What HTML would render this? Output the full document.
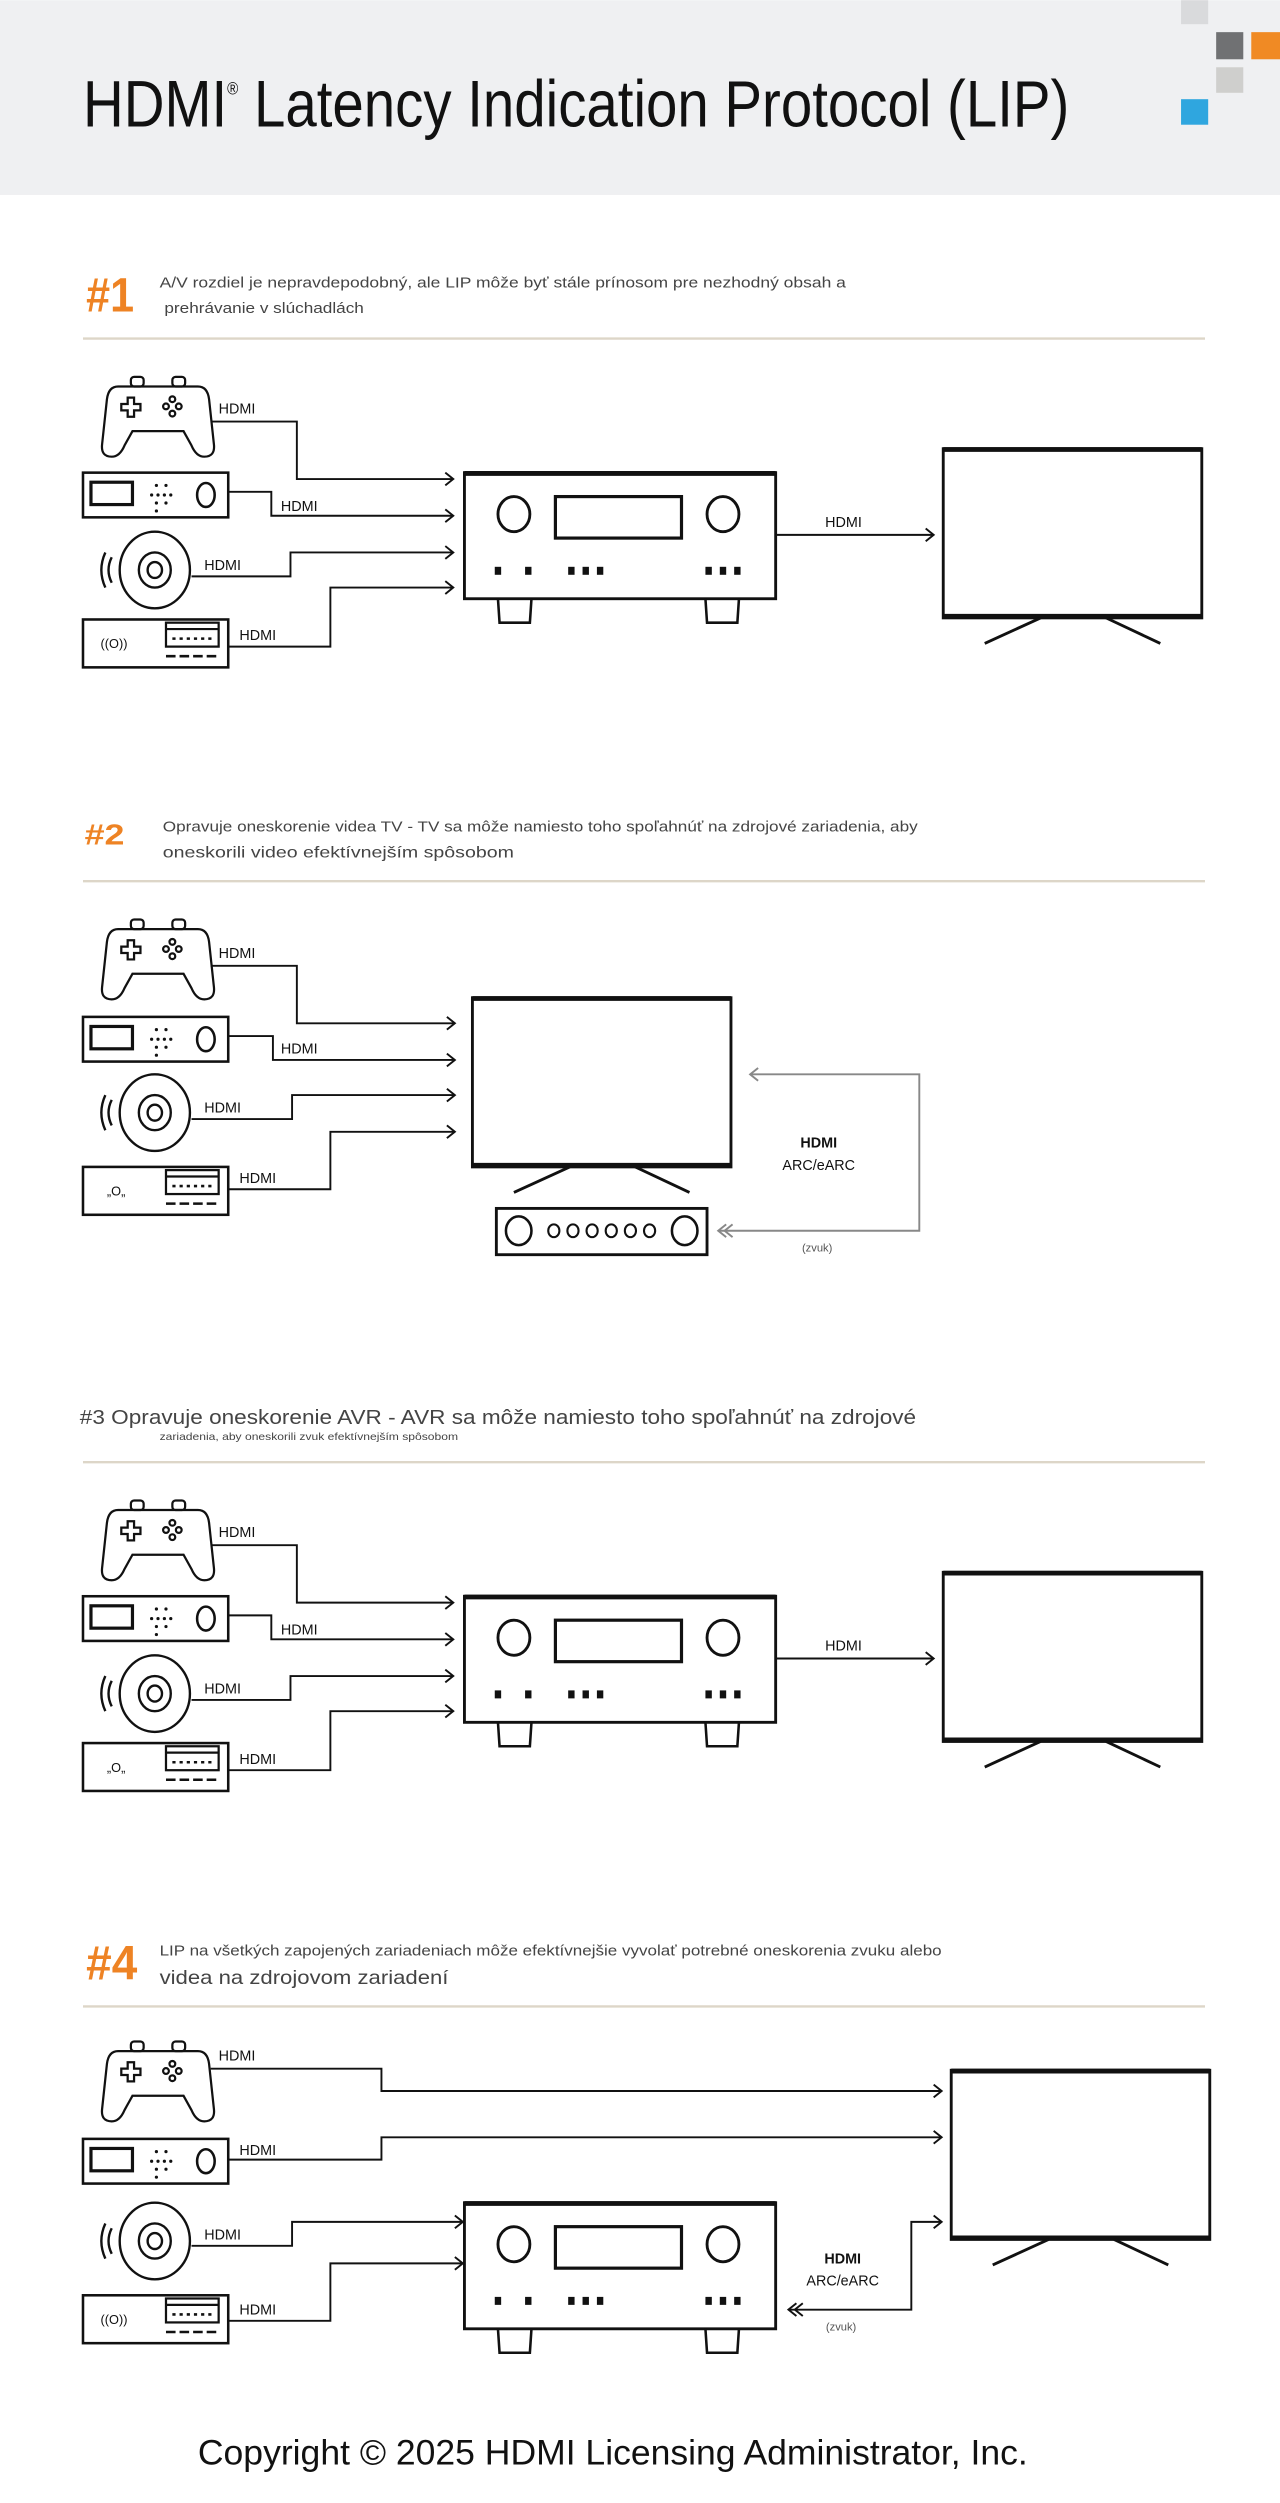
<!DOCTYPE html>
<html><head><meta charset="utf-8"><style>
html,body{margin:0;padding:0;background:#fff;}
svg{display:block;}
text{font-family:"Liberation Sans",sans-serif;}
</style></head><body>
<svg width="1280" height="2503" viewBox="0 0 802 1568" xmlns="http://www.w3.org/2000/svg">
<defs>
<g id="ctrl" fill="none" stroke="#111" stroke-width="1.4">
  <rect x="18" y="0" width="8" height="6" rx="2"/>
  <rect x="44" y="0" width="8" height="6" rx="2"/>
  <path d="M10,6 L60,6 Q66,6 67,14 L70,42 Q71,50 64,50 Q59,50 56,43 L51,34 L19,34 L14,43 Q11,50 6,50 Q-1,50 0,42 L3,14 Q4,6 10,6 Z"/>
  <path d="M16,13 h4 v4 h4 v4 h-4 v4 h-4 v-4 h-4 v-4 h4 z"/>
  <circle cx="44" cy="14" r="1.8"/><circle cx="40" cy="18.5" r="1.8"/><circle cx="48" cy="18.5" r="1.8"/><circle cx="44" cy="23" r="1.8"/>
</g>
<g id="blu" fill="none" stroke="#111">
  <rect x="0" y="0" width="91" height="28" stroke-width="1.6"/>
  <rect x="5" y="6" width="26" height="14" stroke-width="2"/>
  <g fill="#111" stroke="none">
    <circle cx="46" cy="8" r="1"/><circle cx="52" cy="8" r="1"/>
    <circle cx="43" cy="14" r="1"/><circle cx="47" cy="14" r="1"/><circle cx="51" cy="14" r="1"/><circle cx="55" cy="14" r="1"/>
    <circle cx="46" cy="19" r="1"/><circle cx="52" cy="19" r="1"/><circle cx="46" cy="24" r="1"/>
  </g>
  <ellipse cx="77" cy="14" rx="5.5" ry="7.5" stroke-width="1.6"/>
</g>
<g id="disc" fill="none" stroke="#111" stroke-width="1.5">
  <ellipse cx="35" cy="24" rx="22" ry="24"/>
  <ellipse cx="35" cy="24" rx="10" ry="11"/>
  <ellipse cx="35" cy="24" rx="4.5" ry="5"/>
  <path d="M8,16 Q4,24 8,32"/><path d="M4,13 Q-1,24 4,35"/>
</g>
<g id="box4" fill="none" stroke="#111">
  <rect x="0" y="0" width="91" height="30" stroke-width="1.6"/>
  <rect x="52" y="2" width="33" height="15" stroke-width="1.4"/>
  <line x1="52" y1="6" x2="85" y2="6" stroke-width="1.4"/>
  <line x1="56" y1="12" x2="82" y2="12" stroke-width="1.6" stroke-dasharray="2 2.5"/>
  <line x1="52" y1="23" x2="86" y2="23" stroke-width="1.6" stroke-dasharray="6 2.5"/>
</g>
<g id="avr" fill="none" stroke="#111">
  <rect x="0" y="0" width="195" height="79" stroke-width="1.8"/>
  <line x1="0" y1="0.5" x2="195" y2="0.5" stroke-width="3"/>
  <ellipse cx="31" cy="26" rx="10" ry="11" stroke-width="1.8"/>
  <ellipse cx="162" cy="26" rx="10" ry="11" stroke-width="1.8"/>
  <rect x="57" y="15" width="79" height="26" stroke-width="2"/>
  <g fill="#111" stroke="none">
    <rect x="19" y="59" width="4" height="5"/><rect x="38" y="59" width="4" height="5"/>
    <rect x="65" y="59" width="4" height="5"/><rect x="74" y="59" width="4" height="5"/><rect x="83" y="59" width="4" height="5"/>
    <rect x="151" y="59" width="4" height="5"/><rect x="160" y="59" width="4" height="5"/><rect x="169" y="59" width="4" height="5"/>
  </g>
  <path d="M21,79 L22,94 L41,94 L42,79" stroke-width="1.6"/>
  <path d="M151,79 L152,94 L171,94 L172,79" stroke-width="1.6"/>
</g>
<g id="tv" fill="none" stroke="#111">
  <rect x="0" y="0" width="162" height="106" stroke-width="1.8"/>
  <line x1="0" y1="0.5" x2="162" y2="0.5" stroke-width="3"/>
  <line x1="0" y1="105" x2="162" y2="105" stroke-width="3"/>
  <line x1="61" y1="106" x2="26" y2="122" stroke-width="1.8"/>
  <line x1="102" y1="106" x2="136" y2="122" stroke-width="1.8"/>
</g>
</defs>

<!-- header -->
<rect x="0" y="0" width="802" height="122" fill="#eff0f2"/>
<text x="52" y="79" font-size="41" fill="#111" textLength="618" lengthAdjust="spacingAndGlyphs">HDMI<tspan font-size="11" dy="-20">®</tspan><tspan dy="20"> Latency Indication Protocol (LIP)</tspan></text>
<rect x="740" y="0" width="17" height="15" fill="#d9dadc"/>
<rect x="762" y="20" width="17" height="17" fill="#707173"/>
<rect x="784" y="20" width="18" height="17" fill="#f08a24"/>
<rect x="762" y="42" width="17" height="16" fill="#cfcfcd"/>
<rect x="740" y="62" width="17" height="16" fill="#2fa6df"/>

<!-- section 1 -->
<text x="54" y="195" font-size="30" font-weight="bold" fill="#ee8324" textLength="30" lengthAdjust="spacingAndGlyphs">#1</text>
<text x="100" y="180" font-size="9" fill="#444" textLength="430" lengthAdjust="spacingAndGlyphs">A/V rozdiel je nepravdepodobný, ale LIP môže byť stále prínosom pre nezhodný obsah a</text>
<text x="103" y="196" font-size="9" fill="#444" textLength="125" lengthAdjust="spacingAndGlyphs">prehrávanie v slúchadlách</text>
<line x1="52" y1="212" x2="755" y2="212" stroke="#ddd6c8" stroke-width="1.5"/>

<g id="d1">
<use href="#ctrl" x="64" y="236"/>
<use href="#blu" x="52" y="296"/>
<use href="#disc" x="62" y="333"/>
<use href="#box4" x="52" y="388"/>
<text x="63" y="406" font-size="8" fill="#111">((O))</text>
<use href="#avr" x="291" y="296"/>
<use href="#tv" x="591" y="281"/>
<g fill="none" stroke="#111" stroke-width="1.2">
<path d="M132,264 H186 V300 H284"/><path d="M279,296 L284,300 L279,304"/>
<path d="M143,308 H170 V323 H284"/><path d="M279,319 L284,323 L279,327"/>
<path d="M120,361 H182 V346 H284"/><path d="M279,342 L284,346 L279,350"/>
<path d="M143,405 H207 V368 H284"/><path d="M279,364 L284,368 L279,372"/>
<path d="M486,335 H585"/><path d="M580,331 L585,335 L580,339"/>
</g>
<g font-size="9" fill="#111">
<text x="137" y="259">HDMI</text><text x="176" y="320">HDMI</text><text x="128" y="357">HDMI</text><text x="150" y="401">HDMI</text><text x="517" y="330">HDMI</text>
</g>
</g>

<!-- section 2 -->
<text x="53" y="529" font-size="18" font-weight="bold" fill="#ee8324" textLength="25" lengthAdjust="spacingAndGlyphs">#2</text>
<text x="102" y="521" font-size="9" fill="#444" textLength="473" lengthAdjust="spacingAndGlyphs">Opravuje oneskorenie videa TV - TV sa môže namiesto toho spoľahnúť na zdrojové zariadenia, aby</text>
<text x="102" y="537" font-size="10" fill="#444" textLength="220" lengthAdjust="spacingAndGlyphs">oneskorili video efektívnejším spôsobom</text>
<line x1="52" y1="552" x2="755" y2="552" stroke="#ddd6c8" stroke-width="1.5"/>

<use href="#ctrl" x="64" y="576"/>
<use href="#blu" x="52" y="637"/>
<use href="#disc" x="62" y="673"/>
<use href="#box4" x="52" y="731"/>
<text x="67" y="749" font-size="8" fill="#111">„O„</text>
<use href="#tv" x="296" y="625"/>
<g fill="none" stroke="#111">
<rect x="311" y="757" width="132" height="29" stroke-width="1.8"/>
<ellipse cx="325" cy="771" rx="8" ry="9" stroke-width="1.6"/>
<ellipse cx="429" cy="771" rx="8" ry="9" stroke-width="1.6"/>
<g stroke-width="1.3"><ellipse cx="347" cy="771" rx="3.5" ry="4"/><ellipse cx="359" cy="771" rx="3.5" ry="4"/><ellipse cx="371" cy="771" rx="3.5" ry="4"/><ellipse cx="383" cy="771" rx="3.5" ry="4"/><ellipse cx="395" cy="771" rx="3.5" ry="4"/><ellipse cx="407" cy="771" rx="3.5" ry="4"/></g>
</g>
<g fill="none" stroke="#111" stroke-width="1.2">
<path d="M132,605 H186 V641 H285"/><path d="M280,637 L285,641 L280,645"/>
<path d="M143,649 H171 V664 H285"/><path d="M280,660 L285,664 L280,668"/>
<path d="M120,701 H183 V686 H285"/><path d="M280,682 L285,686 L280,690"/>
<path d="M143,745 H207 V709 H285"/><path d="M280,705 L285,709 L280,713"/>
</g>
<g fill="none" stroke="#888" stroke-width="1.2">
<path d="M470,673 H576 V771 H450"/><path d="M475,669 L470,673 L475,677"/>
<path d="M455,767 L450,771 L455,775"/><path d="M459,767 L454,771 L459,775"/>
</g>
<g font-size="9" fill="#111">
<text x="137" y="600">HDMI</text><text x="176" y="660">HDMI</text><text x="128" y="697">HDMI</text><text x="150" y="741">HDMI</text>
<text x="513" y="719" text-anchor="middle" font-weight="bold">HDMI</text>
<text x="513" y="733" text-anchor="middle">ARC/eARC</text>
<text x="512" y="784" text-anchor="middle" font-size="7" fill="#555">(zvuk)</text>
</g>

<!-- section 3 -->
<text x="50" y="892" font-size="13" fill="#444" textLength="524" lengthAdjust="spacingAndGlyphs">#3 Opravuje oneskorenie AVR - AVR sa môže namiesto toho spoľahnúť na zdrojové</text>
<text x="100" y="902" font-size="6.5" fill="#444" textLength="187" lengthAdjust="spacingAndGlyphs">zariadenia, aby oneskorili zvuk efektívnejším spôsobom</text>
<line x1="52" y1="916" x2="755" y2="916" stroke="#ddd6c8" stroke-width="1.5"/>

<g transform="translate(0,704)">
<use href="#ctrl" x="64" y="236"/>
<use href="#blu" x="52" y="296"/>
<use href="#disc" x="62" y="333"/>
<use href="#box4" x="52" y="388"/>
<text x="67" y="406" font-size="8" fill="#111">„O„</text>
<use href="#avr" x="291" y="296"/>
<use href="#tv" x="591" y="281"/>
<g fill="none" stroke="#111" stroke-width="1.2">
<path d="M132,264 H186 V300 H284"/><path d="M279,296 L284,300 L279,304"/>
<path d="M143,308 H170 V323 H284"/><path d="M279,319 L284,323 L279,327"/>
<path d="M120,361 H182 V346 H284"/><path d="M279,342 L284,346 L279,350"/>
<path d="M143,405 H207 V368 H284"/><path d="M279,364 L284,368 L279,372"/>
<path d="M486,335 H585"/><path d="M580,331 L585,335 L580,339"/>
</g>
<g font-size="9" fill="#111">
<text x="137" y="259">HDMI</text><text x="176" y="320">HDMI</text><text x="128" y="357">HDMI</text><text x="150" y="401">HDMI</text><text x="517" y="330">HDMI</text>
</g>
</g>

<!-- section 4 -->
<text x="54" y="1240" font-size="30" font-weight="bold" fill="#ee8324" textLength="32" lengthAdjust="spacingAndGlyphs">#4</text>
<text x="100" y="1225" font-size="9" fill="#444" textLength="490" lengthAdjust="spacingAndGlyphs">LIP na všetkých zapojených zariadeniach môže efektívnejšie vyvolať potrebné oneskorenia zvuku alebo</text>
<text x="100" y="1243" font-size="12" fill="#444" textLength="181" lengthAdjust="spacingAndGlyphs">videa na zdrojovom zariadení</text>
<line x1="52" y1="1257" x2="755" y2="1257" stroke="#ddd6c8" stroke-width="1.5"/>

<use href="#ctrl" x="64" y="1279"/>
<use href="#blu" x="52" y="1340"/>
<use href="#disc" x="62" y="1380"/>
<use href="#box4" x="52" y="1438"/>
<text x="63" y="1456" font-size="8" fill="#111">((O))</text>
<use href="#avr" x="291" y="1380"/>
<use href="#tv" x="596" y="1297"/>
<g fill="none" stroke="#111" stroke-width="1.2">
<path d="M132,1296 H239 V1310 H590"/><path d="M585,1306 L590,1310 L585,1314"/>
<path d="M143,1353 H239 V1339 H590"/><path d="M585,1335 L590,1339 L585,1343"/>
<path d="M120,1407 H183 V1392 H290"/><path d="M285,1388 L290,1392 L285,1396"/>
<path d="M143,1454 H207 V1418 H290"/><path d="M285,1414 L290,1418 L285,1422"/>
<path d="M494,1447 H571 V1392 H590"/><path d="M585,1388 L590,1392 L585,1396"/>
<path d="M499,1443 L494,1447 L499,1451"/><path d="M503,1443 L498,1447 L503,1451"/>
</g>
<g font-size="9" fill="#111">
<text x="137" y="1291">HDMI</text><text x="150" y="1350">HDMI</text><text x="128" y="1403">HDMI</text><text x="150" y="1450">HDMI</text>
<text x="528" y="1418" text-anchor="middle" font-weight="bold">HDMI</text>
<text x="528" y="1432" text-anchor="middle">ARC/eARC</text>
<text x="527" y="1460" text-anchor="middle" font-size="7" fill="#555">(zvuk)</text>
</g>

<text x="124" y="1544" font-size="22" fill="#111" textLength="520" lengthAdjust="spacingAndGlyphs">Copyright © 2025 HDMI Licensing Administrator, Inc.</text>
</svg>
</body></html>
